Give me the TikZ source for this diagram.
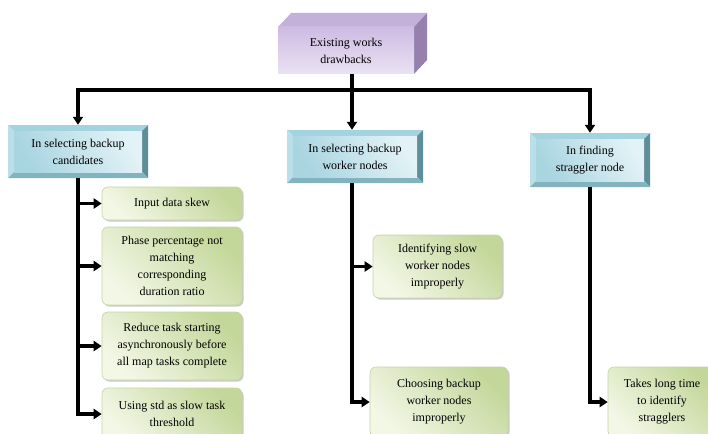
\documentclass[tikz,border=0pt]{standalone}
\usepackage{fontspec}
\setmainfont{Liberation Serif}
\usetikzlibrary{arrows.meta,shadows,calc}
\definecolor{pFront}{HTML}{CDBBE2}
\definecolor{pFrontB}{HTML}{EAE2F3}
\definecolor{pTop}{HTML}{C4B1DA}
\definecolor{pSide}{HTML}{9580AE}
\definecolor{bTop}{HTML}{A4D3E0}
\definecolor{bLeft}{HTML}{B9DFE9}
\definecolor{bRight}{HTML}{5E8E99}
\definecolor{bBot}{HTML}{82B3BF}
\definecolor{bIn1}{HTML}{A9D5E1}
\definecolor{bIn2}{HTML}{E2F2F6}
\definecolor{gL}{HTML}{F3F7E6}
\definecolor{gD}{HTML}{C3D79A}
\definecolor{gB}{HTML}{C4D4A4}
\tikzset{
  txt/.style={font=\fontsize{12}{17}\selectfont, align=center, inner sep=0pt},
  gbox/.style={txt, draw=gB, line width=0.6pt, rounded corners=6pt,
    left color=gL, right color=gD, shading angle=135,
    drop shadow={shadow xshift=1.5pt, shadow yshift=-1.5pt, opacity=0.35, fill=black!60}},
  link/.style={line width=3.2pt},
  arr/.style={line width=3.2pt, -{Triangle[length=8pt,width=10pt]}},
}
\newcommand\bluebox[6]{%
  \fill[bTop] (#2,#3) -- (#4,#3) -- ({#4-6},{#3+6}) -- ({#2+6},{#3+6}) -- cycle;
  \fill[bLeft] (#2,#3) -- ({#2+6},{#3+6}) -- ({#2+6},{#5-6}) -- (#2,#5) -- cycle;
  \fill[bRight] (#4,#3) -- (#4,#5) -- ({#4-6},{#5-6}) -- ({#4-6},{#3+6}) -- cycle;
  \fill[bBot] (#2,#5) -- (#4,#5) -- ({#4-6},{#5-6}) -- ({#2+6},{#5-6}) -- cycle;
  \shade[left color=bIn1, right color=bIn2, shading angle=120] ({#2+6},{#3+6}) rectangle ({#4-6},{#5-6});
  \node[txt, minimum width={(#4-#2)*1pt}, minimum height={(#5-#3)*1pt}] (#1) at ({(#2+#4)/2},{(#3+#5)/2}) {#6};
}
\begin{document}
\begin{tikzpicture}[x=1pt,y=-1pt]
\useasboundingbox (0,0) rectangle (708,433);
\clip (0,0) rectangle (708,433);
% top cuboid
\fill[pTop] (278,27) -- (291,13) -- (427,13) -- (414,27) -- cycle;
\fill[pSide] (414,27) -- (427,13) -- (427,60) -- (414,74) -- cycle;
\shade[top color=pFront, bottom color=pFrontB] (278,27) rectangle (414,74);
\node[txt, minimum width=136pt, minimum height=47pt] (top) at (346,50.5) {Existing works\\drawbacks};
\coordinate (topout) at (352,74);
\coordinate (bus) at (352,90);
% blue boxes
\bluebox{b1}{8}{125}{148}{178}{In selecting backup\\candidates}
\bluebox{b2}{287}{130}{423}{183}{In selecting backup\\worker nodes}
\bluebox{b3}{530}{133}{650}{187}{In finding\\straggler node}
% green boxes
\node[gbox, minimum width=140pt, minimum height=33pt] (g1) at (172,203.5) {Input data skew};
\node[gbox, minimum width=140pt, minimum height=78pt] (g2) at (172,266) {Phase percentage not\\matching\\corresponding\\duration ratio};
\node[gbox, minimum width=140pt, minimum height=68pt] (g3) at (172,346) {Reduce task starting\\asynchronously before\\all map tasks complete};
\node[gbox, minimum width=140pt, minimum height=52pt] (g4) at (172,414) {Using std as slow task\\threshold};
\node[gbox, minimum width=129pt, minimum height=63pt] (g5) at (437.5,266.5) {Identifying slow\\worker nodes\\improperly};
\node[gbox, minimum width=138pt, minimum height=70pt] (g6) at (439,402) {Choosing backup\\worker nodes\\improperly};
\node[gbox, minimum width=108pt, minimum height=70pt] (g7) at (662,402) {Takes long time\\to identify\\stragglers};
% connectors
\draw[link] (topout) -- (bus);
\draw[arr] (bus) -| (b1.north);
\draw[arr] (bus) -| (b3.north);
\draw[arr] (bus) -- (bus |- b2.north);
\draw[link] (b1.south) -- ([yshift=-1.6pt]b1.south |- g4.west);
\draw[arr] (b1.south |- g1.west) -- (g1.west);
\draw[arr] (b1.south |- g2.west) -- (g2.west);
\draw[arr] (b1.south |- g3.west) -- (g3.west);
\draw[arr] ([xshift=-1.6pt]b1.south |- g4.west) -- (g4.west);
\draw[link] (b2.south -| bus) -- ([yshift=-1.6pt]bus |- g6.west);
\draw[arr] (bus |- g5.west) -- (g5.west);
\draw[arr] ([xshift=-1.6pt]bus |- g6.west) -- (g6.west);
\draw[link] (b3.south) -- ([yshift=-1.6pt]b3.south |- g7.west);
\draw[arr] ([xshift=-1.6pt]b3.south |- g7.west) -- (g7.west);
\end{tikzpicture}
\end{document}
